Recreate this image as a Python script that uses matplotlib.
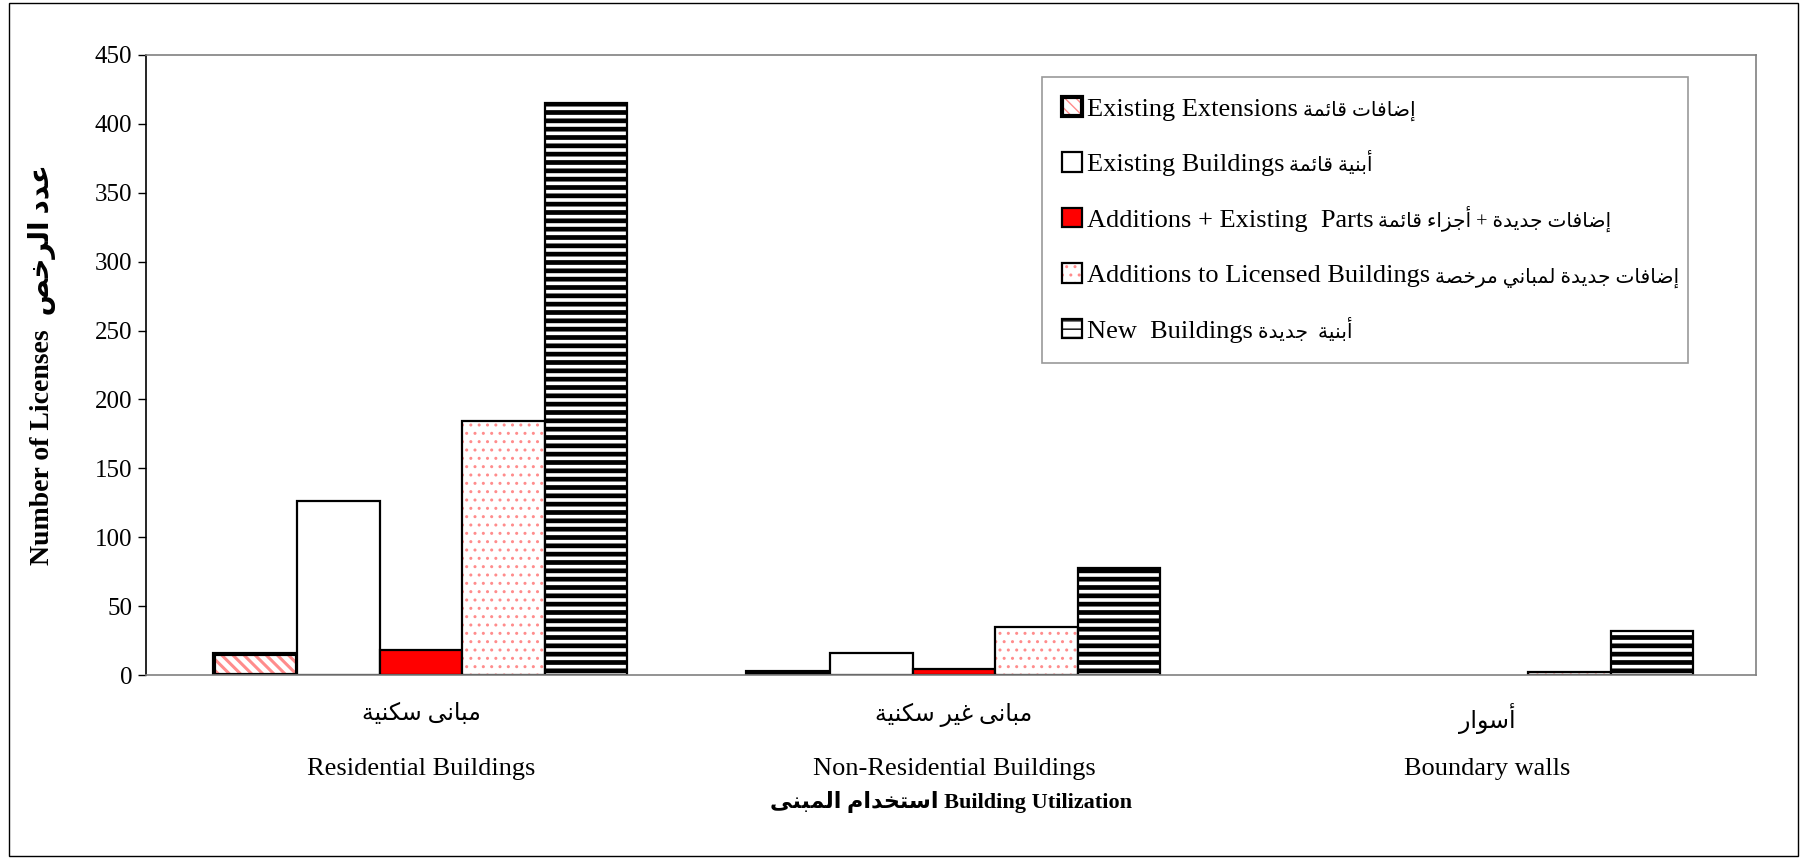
import matplotlib
matplotlib.use("Agg")
import matplotlib.pyplot as plt
import numpy as np
from matplotlib.patches import Rectangle

# data
groups_ar = ["مبانى سكنية", "مبانى غير سكنية", "أسوار"]
groups_en = ["Residential Buildings", "Non-Residential Buildings", "Boundary walls"]

series_en = ["Existing Extensions", "Existing Buildings", "Additions + Existing  Parts",
             "Additions to Licensed Buildings", "New  Buildings"]
series_ar = ["إضافات قائمة", "أبنية قائمة", "إضافات جديدة + أجزاء قائمة",
             "إضافات جديدة لمباني مرخصة", "أبنية  جديدة"]

existing_ext = [15, 2, 0]
existing_bld = [126, 16, 0]
add_existing = [18, 4, 0]
add_licensed = [184, 35, 2]
new_bld = [415, 78, 32]

yticks = [0, 50, 100, 150, 200, 250, 300, 350, 400, 450]

# --- minimal arabic shaping (matplotlib draws glyphs left to right, unjoined) ---
DUAL = {'ب': 0xFE8F, 'ت': 0xFE95, 'ث': 0xFE99, 'ج': 0xFE9D, 'ح': 0xFEA1, 'خ': 0xFEA5,
        'س': 0xFEB1, 'ش': 0xFEB5, 'ص': 0xFEB9, 'ض': 0xFEBD, 'ط': 0xFEC1, 'ظ': 0xFEC5,
        'ع': 0xFEC9, 'غ': 0xFECD, 'ف': 0xFED1, 'ق': 0xFED5, 'ك': 0xFED9, 'ل': 0xFEDD,
        'م': 0xFEE1, 'ن': 0xFEE5, 'ه': 0xFEE9, 'ي': 0xFEF1, 'ئ': 0xFE89}
RIGHT = {'ا': 0xFE8D, 'أ': 0xFE83, 'إ': 0xFE87, 'آ': 0xFE81, 'د': 0xFEA9, 'ذ': 0xFEAB,
         'ر': 0xFEAD, 'ز': 0xFEAF, 'و': 0xFEED, 'ؤ': 0xFE85, 'ة': 0xFE93, 'ى': 0xFEEF}
NONE = {'ء': 0xFE80}
LAMALEF = {'ا': 0xFEFB, 'أ': 0xFEF7, 'إ': 0xFEF9, 'آ': 0xFEF5}


def ar(text):
    res = []
    prev_joins = False
    i = 0
    n = len(text)
    while i < n:
        c = text[i]
        nxt = text[i + 1] if i + 1 < n else ''
        if c == 'ل' and nxt in LAMALEF:
            res.append(chr(LAMALEF[nxt] + (1 if prev_joins else 0)))
            prev_joins = False
            i += 2
            continue
        if c in DUAL:
            nxt_joins = nxt in DUAL or nxt in RIGHT
            off = {(False, False): 0, (True, False): 1, (False, True): 2, (True, True): 3}[(prev_joins, nxt_joins)]
            res.append(chr(DUAL[c] + off))
            prev_joins = True
        elif c in RIGHT:
            res.append(chr(RIGHT[c] + (1 if prev_joins else 0)))
            prev_joins = False
        elif c in NONE:
            res.append(chr(NONE[c]))
            prev_joins = False
        else:
            res.append(c)
            prev_joins = False
        i += 1
    return ''.join(reversed(res))


def hatch_lw(patches, lw):
    for p in patches:
        if hasattr(p, 'set_hatch_linewidth'):
            p.set_hatch_linewidth(lw)


def hide_zero(bars):
    for p in bars:
        if p.get_height() == 0:
            p.set_linewidth(0)
            p.set_hatch('')


plt.rcParams['font.family'] = ['Liberation Serif', 'DejaVu Sans']
plt.rcParams['hatch.linewidth'] = 1.0

fig = plt.figure(figsize=(18.02, 8.59), dpi=100)
ax = fig.add_axes([0.081, 0.2142, 0.8935, 0.7218])

x = np.arange(len(groups_en))
w = 0.155
salmon = '#FF8C8C'

# Existing extensions: salmon diagonal stripes + thick black border
b1h = ax.bar(x - 2 * w, existing_ext, w, facecolor='white', edgecolor=salmon, linewidth=0, hatch='\\\\\\')
hatch_lw(b1h, 2.2)
b1e = ax.bar(x - 2 * w, existing_ext, w, fill=False, edgecolor='black', linewidth=3)

b2 = ax.bar(x - w, existing_bld, w, facecolor='white', edgecolor='black', linewidth=1.6)
b3 = ax.bar(x, add_existing, w, facecolor='#FF0000', edgecolor='black', linewidth=1.6)

# additions to licensed: pink dots
b4h = ax.bar(x + w, add_licensed, w, facecolor='white', edgecolor=salmon, linewidth=0, hatch='..')
hatch_lw(b4h, 1.0)
b4e = ax.bar(x + w, add_licensed, w, fill=False, edgecolor='black', linewidth=1.6)

# new buildings: black horizontal stripes
b5 = ax.bar(x + 2 * w, new_bld, w, facecolor='white', edgecolor='black', linewidth=1.6, hatch='--')
hatch_lw(b5, 3.4)

for bars in [b1h, b1e, b2, b3, b4h, b4e, b5]:
    hide_zero(bars)

ax.set_xlim(-0.516, 2.505)
ax.set_ylim(0, 450)
ax.set_yticks(yticks)
ax.set_yticklabels([str(v) for v in yticks], fontsize=18)

# arabic names as major tick labels, english names as minor tick labels underneath
ax.xaxis.remove_overlapping_locs = False
ax.set_xticks(x)
ax.set_xticklabels([ar(a) for a in groups_ar], fontsize=17)
ax.set_xticks(x, minor=True)
ax.set_xticklabels(groups_en, minor=True, fontsize=19)
ax.tick_params(axis='x', which='major', length=0, pad=20)
ax.tick_params(axis='x', which='minor', length=0, pad=60)
ax.tick_params(axis='y', length=6, width=1, direction='out', pad=4)

for s in ['top', 'right', 'bottom']:
    ax.spines[s].set_color('#808080')
    ax.spines[s].set_linewidth(1.2)
ax.spines['left'].set_color('black')
ax.spines['left'].set_linewidth(1.2)

ax.set_ylabel("Number of Licenses  " + ar("عدد الرخص"), fontsize=20, fontweight='bold', labelpad=28)
ax.set_xlabel(ar("استخدام المبنى") + " Building Utilization", fontsize=16, fontweight='bold', labelpad=8)

# legend: english part in the legend itself, arabic part written right after each entry
handles = [(b1h[0], b1e[0]), b2[0], b3[0], (b4h[0], b4e[0]), b5[0]]
leg = ax.legend(handles, series_en, loc='upper left', bbox_to_anchor=(0.5565, 0.3, 0.401, 0.6645),
                mode='expand', fontsize=19, frameon=True, fancybox=False, edgecolor='#808080',
                handlelength=0.75, handleheight=0.75, handletextpad=0.2,
                labelspacing=1.2, borderpad=0.75, borderaxespad=0)
leg.get_frame().set_linewidth(1.2)

fig.canvas.draw()
W, H = fig.canvas.get_width_height()
for t, a in zip(leg.get_texts(), series_ar):
    bb = t.get_window_extent()
    bx, by = t.get_transform().transform(t.get_position())
    fig.text((bb.x1 + 5) / W, by / H, ar(a), fontsize=14.5, ha='left', va='baseline')

# outer chart border
fig.patches.append(Rectangle((0.005, 0.003), 0.993, 0.993, transform=fig.transFigure,
                             fill=False, edgecolor='black', linewidth=1.0))

fig.savefig("out.png", dpi=100)
